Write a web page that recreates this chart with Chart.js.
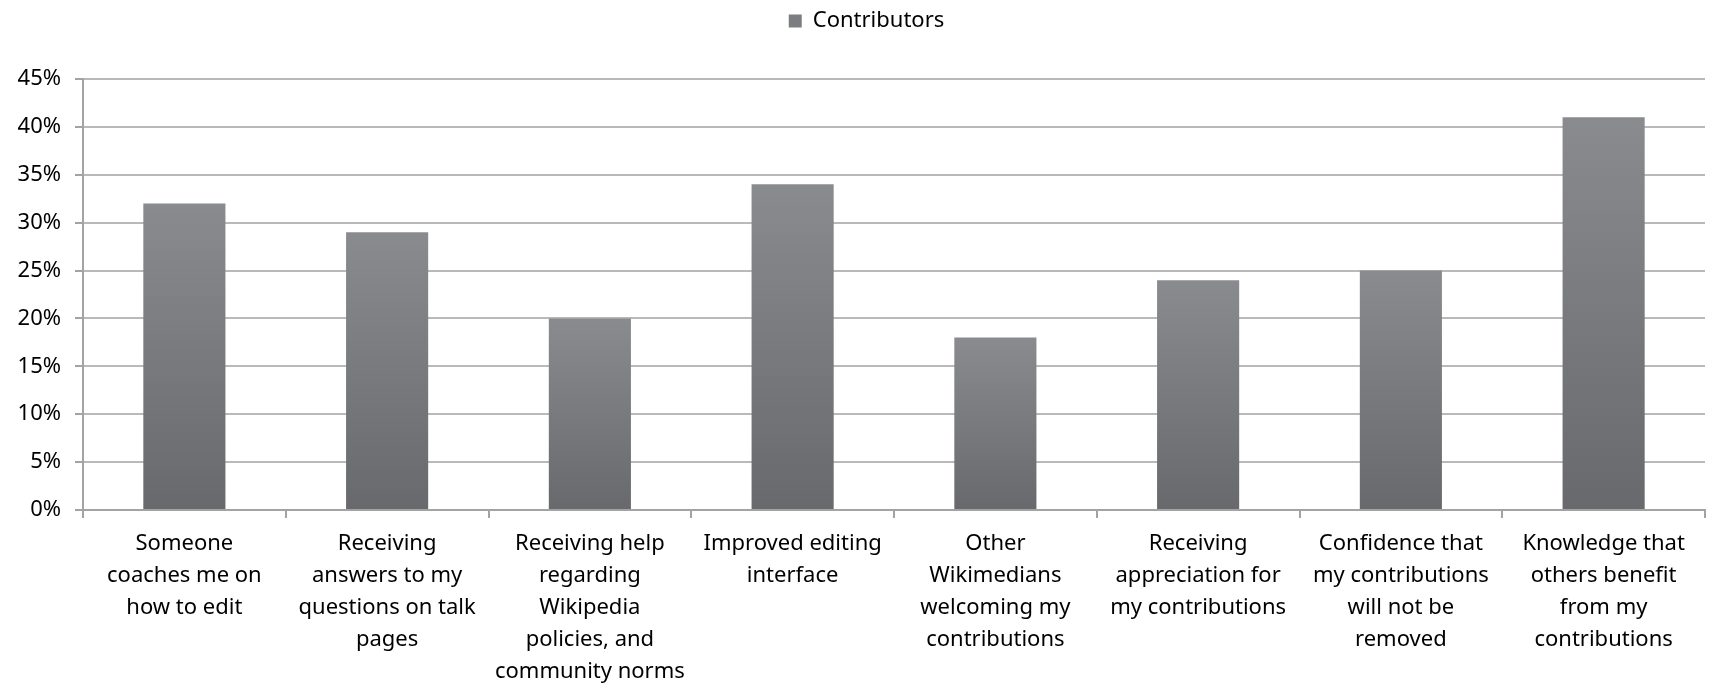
<!DOCTYPE html>
<html>
<head>
<meta charset="utf-8">
<script src="https://cdn.jsdelivr.net/npm/chart.js@4/dist/chart.umd.min.js"></script>
<style>
  html, body { margin: 0; padding: 0; background: #fff; }
  #wrap { width: 1713px; height: 684px; position: relative; }
</style>
</head>
<body>
<div id="wrap"><canvas id="chart"></canvas></div>
<script>
const categories = [
  ["Someone", "coaches me on", "how to edit"],
  ["Receiving", "answers to my", "questions on talk", "pages"],
  ["Receiving help", "regarding", "Wikipedia", "policies, and", "community norms"],
  ["Improved editing", "interface"],
  ["Other", "Wikimedians", "welcoming my", "contributions"],
  ["Receiving", "appreciation for", "my contributions"],
  ["Confidence that", "my contributions", "will not be", "removed"],
  ["Knowledge that", "others benefit", "from my", "contributions"],
];
const contributors = [32, 29, 20, 34, 18, 24, 25, 41];
const yTicks = [0, 5, 10, 15, 20, 25, 30, 35, 40, 45];

const FONT = "'Noto Sans', 'Liberation Sans', sans-serif";

// each bar gets its own light-to-dark gradient, like the original
function barGradient(context) {
  const chart = context.chart;
  if (!chart.chartArea) return "#7c7d80";
  const y = chart.scales.y;
  const top = y.getPixelForValue(context.raw);
  const bottom = y.getPixelForValue(0);
  const g = chart.ctx.createLinearGradient(0, top, 0, bottom);
  g.addColorStop(0, "#8a8b8f");
  g.addColorStop(1, "#68696d");
  return g;
}

// extra room under the legend, and nudge it a bit right like the original
const legendGap = {
  id: "legendGap",
  beforeInit(chart) {
    const fit = chart.legend.fit;
    chart.legend.fit = function () {
      fit.bind(chart.legend)();
      this.height += 37;
    };
  },
  afterLayout(chart) {
    chart.legend.left += 14;
    chart.legend.right += 14;
  },
};

const ctx = document.getElementById("chart").getContext("2d");
new Chart(ctx, {
  type: "bar",
  data: {
    labels: categories,
    datasets: [
      {
        label: "Contributors",
        data: contributors,
        backgroundColor: barGradient,
        borderWidth: 0,
      },
    ],
  },
  plugins: [legendGap],
  options: {
    responsive: true,
    maintainAspectRatio: false,
    animation: false,
    barPercentage: 0.405,
    categoryPercentage: 1,
    layout: {
      padding: { left: 0, right: 8, top: 0, bottom: -14 },
    },
    plugins: {
      tooltip: { enabled: false },
      legend: {
        position: "top",
        labels: {
          color: "#000",
          font: { family: FONT, size: 22 },
          boxWidth: 13,
          boxHeight: 13,
          padding: 10,
          generateLabels: () => [
            {
              text: "Contributors",
              fillStyle: "#7c7d80",
              strokeStyle: "#7c7d80",
              lineWidth: 0,
              datasetIndex: 0,
            },
          ],
        },
      },
    },
    scales: {
      y: {
        min: 0,
        max: 45,
        afterBuildTicks: (scale) => {
          scale.ticks = yTicks.map((v) => ({ value: v }));
        },
        afterFit: (scale) => {
          scale.width = 83;
        },
        border: { display: true, color: "#a3a3a3", width: 2 },
        grid: {
          color: "#b9b9b9",
          lineWidth: 2,
          tickLength: 8,
          tickColor: "#a3a3a3",
        },
        ticks: {
          color: "#000",
          padding: 14,
          font: { family: FONT, size: 22 },
          callback: (value) => value + "%",
        },
      },
      x: {
        border: { display: true, color: "#a3a3a3", width: 2 },
        grid: {
          drawOnChartArea: false,
          drawTicks: true,
          tickLength: 8,
          color: "#a3a3a3",
          lineWidth: 2,
        },
        ticks: {
          color: "#000",
          padding: 10,
          maxRotation: 0,
          autoSkip: false,
          font: { family: FONT, size: 22, lineHeight: 32 / 22 },
        },
      },
    },
  },
});
</script>
</body>
</html>
